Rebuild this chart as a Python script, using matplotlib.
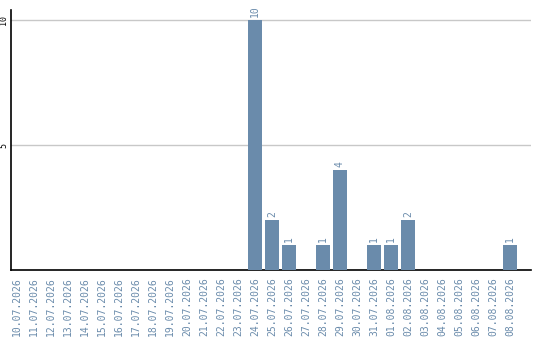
import matplotlib
matplotlib.use("Agg")
import matplotlib.pyplot as plt

dates = ["10.07.2026", "11.07.2026", "12.07.2026", "13.07.2026", "14.07.2026",
         "15.07.2026", "16.07.2026", "17.07.2026", "18.07.2026", "19.07.2026",
         "20.07.2026", "21.07.2026", "22.07.2026", "23.07.2026", "24.07.2026",
         "25.07.2026", "26.07.2026", "27.07.2026", "28.07.2026", "29.07.2026",
         "30.07.2026", "31.07.2026", "01.08.2026", "02.08.2026", "03.08.2026",
         "04.08.2026", "05.08.2026", "06.08.2026", "07.08.2026", "08.08.2026"]
counts = [0, 0, 0, 0, 0, 0, 0, 0, 0, 0, 0, 0, 0, 0, 10,
          2, 1, 0, 1, 4, 0, 1, 1, 2, 0, 0, 0, 0, 0, 1]
y_ticks = [5, 10]

bar_color = "#6a8bab"
mono = "DejaVu Sans Mono"
W, H = 540, 340
fig = plt.figure(figsize=(W / 100, H / 100), dpi=100)
ax = fig.add_axes([11 / W, (H - 270) / H, (531 - 11) / W, (270 - 10) / H])

x = list(range(len(dates)))
ax.bar(x, counts, width=0.8, color=bar_color, zorder=3)
for xi, v in zip(x, counts):
    if v > 0:
        ax.text(xi, v + 0.12, str(v), rotation=90, ha="center", va="bottom",
                fontsize=7, family=mono, color=bar_color)

ax.set_xlim(-0.35, 30.24)
ax.set_ylim(0, 10.4)
ax.set_xticks(x)
ax.set_xticklabels(dates, rotation=90, fontsize=7, family=mono, color=bar_color)
ax.set_yticks(y_ticks)
ax.set_yticklabels([str(t) for t in y_ticks], rotation=90, fontsize=6,
                   family=mono, va="center", color="black")
ax.tick_params(axis="both", length=0)
ax.tick_params(axis="x", pad=5)
ax.tick_params(axis="y", pad=2)
ax.grid(axis="y", color="#c8c8c8", linewidth=1, zorder=0)
for side in ("top", "right"):
    ax.spines[side].set_visible(False)
for side in ("left", "bottom"):
    ax.spines[side].set_color("black")
    ax.spines[side].set_linewidth(1.2)

fig.savefig("out.png", dpi=100)
